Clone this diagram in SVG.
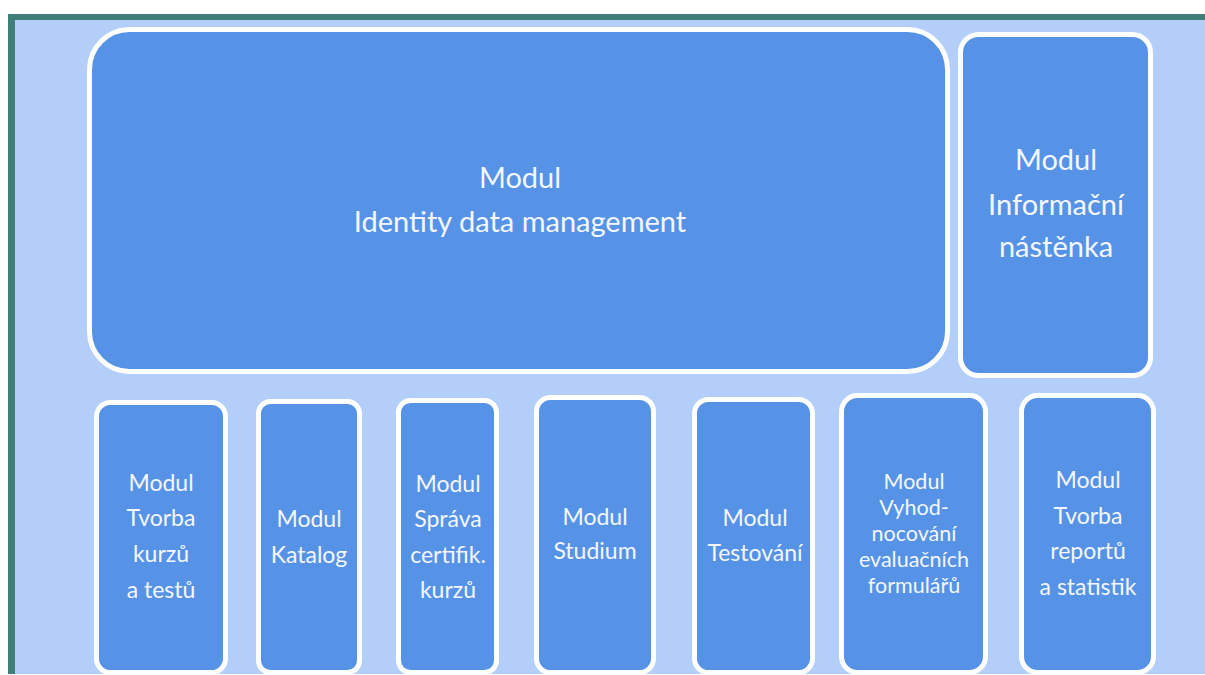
<svg xmlns="http://www.w3.org/2000/svg" width="1205" height="675" viewBox="0 0 1205 675">
<style>
.box{fill:#5693E7;stroke:#FFFFFF;stroke-width:5}
.t{font-family:Lato,"Open Sans","Liberation Sans",sans-serif;fill:#F4F7FF;text-anchor:middle}
.big{font-size:29px}
.sm{font-size:23px}
.xs{font-size:21.5px}
</style>
<rect x="0" y="0" width="1205" height="675" fill="#FFFFFF"/>
<rect x="8" y="14" width="1197" height="660" fill="#3F7F7A"/>
<rect x="15" y="20" width="1190" height="654" fill="#B3CFF9"/>
<g id="node-identity">
<rect class="box" x="89.5" y="29.5" width="858" height="342" rx="40"/>
<text class="t big" x="520" y="188">Modul</text>
<text class="t big" x="520" y="232">Identity data management</text>
</g>
<g id="node-nastenka">
<rect class="box" x="960.5" y="34.5" width="190" height="341" rx="18"/>
<text class="t big" x="1056" y="170">Modul</text>
<text class="t big" x="1056" y="215">Informační</text>
<text class="t big" x="1056" y="257">nástěnka</text>
</g>
<g id="node-tvorba-kurzu">
<rect class="box" x="96.5" y="402.5" width="129" height="270" rx="14"/>
<text class="t sm" x="161" y="491">Modul</text>
<text class="t sm" x="161" y="526">Tvorba</text>
<text class="t sm" x="161" y="562">kurzů</text>
<text class="t sm" x="161" y="598">a testů</text>
</g>
<g id="node-katalog">
<rect class="box" x="258.5" y="401.5" width="101" height="271" rx="12"/>
<text class="t sm" x="309" y="527">Modul</text>
<text class="t sm" x="309" y="563">Katalog</text>
</g>
<g id="node-sprava">
<rect class="box" x="398.5" y="400.5" width="98" height="272" rx="12"/>
<text class="t sm" x="448" y="492">Modul</text>
<text class="t sm" x="448" y="527">Správa</text>
<text class="t sm" x="448" y="563">certifik.</text>
<text class="t sm" x="448" y="598">kurzů</text>
</g>
<g id="node-studium">
<rect class="box" x="536.5" y="397.5" width="117" height="275" rx="14"/>
<text class="t sm" x="595" y="525">Modul</text>
<text class="t sm" x="595" y="559">Studium</text>
</g>
<g id="node-testovani">
<rect class="box" x="694.5" y="399.5" width="118" height="273" rx="14"/>
<text class="t sm" x="755" y="526">Modul</text>
<text class="t sm" x="755" y="561">Testování</text>
</g>
<g id="node-vyhodnocovani">
<rect class="box" x="841.5" y="395.5" width="144" height="277" rx="16"/>
<text class="t xs" x="914" y="489">Modul</text>
<text class="t xs" x="914" y="515">Vyhod-</text>
<text class="t xs" x="914" y="541">nocování</text>
<text class="t xs" x="914" y="567">evaluačních</text>
<text class="t xs" x="914" y="593">formulářů</text>
</g>
<g id="node-reporty">
<rect class="box" x="1021.5" y="395.5" width="132" height="277" rx="16"/>
<text class="t sm" x="1088" y="488">Modul</text>
<text class="t sm" x="1088" y="524">Tvorba</text>
<text class="t sm" x="1088" y="559">reportů</text>
<text class="t sm" x="1088" y="595">a statistik</text>
</g>
<g id="connectors"></g>
</svg>
